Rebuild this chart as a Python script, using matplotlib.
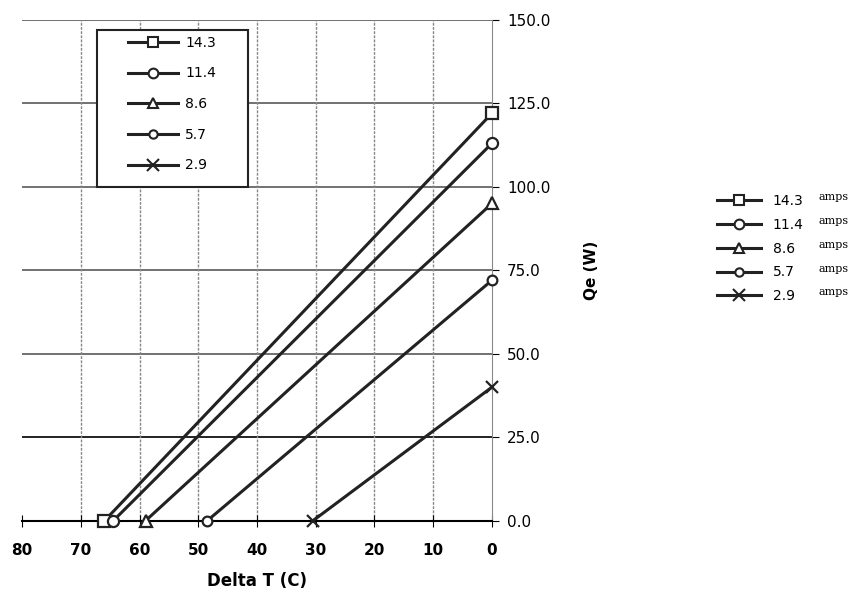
import matplotlib.pyplot as plt
import numpy as np
from matplotlib.lines import Line2D
from matplotlib.patches import Rectangle

# current (amps) and end points of each Qe vs Delta T line
currents = ['14.3', '11.4', '8.6', '5.7', '2.9']
qe_max = [122, 113, 95, 72, 40]          # Qe (W) at Delta T = 0
dt_max = [66, 64.5, 59, 48.5, 30.5]      # Delta T (C) at Qe = 0
markers = ['s', 'o', '^', 'o', 'x']
msizes = [8, 8, 8, 7, 9]

x_ticks = [80, 70, 60, 50, 40, 30, 20, 10, 0]
y_ticks = [0, 25, 50, 75, 100, 125, 150]

fig = plt.figure(figsize=(8.54, 6), dpi=100)
ax = fig.add_axes([0.026, 0.132, 0.550, 0.835])

# grid
for y in y_ticks[1:]:
    col = '#111111' if y == 25 else '#666666'
    ax.axhline(y, color=col, lw=1.3, zorder=1)
for x in x_ticks[1:-1]:
    ax.axvline(x, color='#888888', lw=1, ls=(0, (2, 1)), zorder=1)

handles = []
for c, q, d, m, ms in zip(currents, qe_max, dt_max, markers, msizes):
    ax.plot([d, 0], [0, q], color='#222222', lw=2.2, marker=m, ms=ms,
            mfc='white', mec='#222222', mew=1.6, zorder=3, clip_on=False)
    handles.append(Line2D([], [], color='#222222', lw=2.2, marker=m, ms=ms - 1,
                          mfc='white', mec='#222222', mew=1.5))

ax.set_xlim(80, 0)
ax.set_ylim(0, 150)
ax.set_xticks(x_ticks)
ax.set_xticklabels([str(x) for x in x_ticks], fontsize=11, fontweight='bold')
ax.set_yticks(y_ticks)
ax.set_yticklabels([f'{y:.1f}' for y in y_ticks], fontsize=11)
ax.yaxis.tick_right()
ax.yaxis.set_label_position('right')
ax.tick_params(axis='x', direction='inout', length=8, pad=12)
ax.tick_params(axis='y', direction='out', length=5, pad=6)

for s in ['top', 'left']:
    ax.spines[s].set_visible(False)
ax.spines['bottom'].set_linewidth(1.5)
ax.spines['right'].set_color('#888888')
ax.spines['right'].set_linestyle((0, (2, 1)))

ax.set_xlabel('Delta T (C)', fontsize=12, fontweight='bold', labelpad=10)
ax.set_ylabel('Qe (W)', fontsize=11, fontweight='bold', labelpad=24)

# inner legend with a drawn box
box = Rectangle((0.16, 0.667), 0.321, 0.313, transform=ax.transAxes,
                facecolor='white', edgecolor='#222222', lw=1.5, zorder=4)
ax.add_patch(box)
leg = ax.legend(handles, currents, loc='upper left', bbox_to_anchor=(0.2255, 0.968),
                fontsize=10, handlelength=3.6, handletextpad=0.5, labelspacing=1.2,
                frameon=False, borderpad=0, borderaxespad=0)
leg.set_zorder(5)

leg2 = fig.legend(handles, currents, loc='upper left', bbox_to_anchor=(0.825, 0.697),
                  fontsize=10, handlelength=3.2, labelspacing=0.7, frameon=False)
for i in range(len(currents)):
    fig.text(0.958, 0.671 - i * 0.0395, 'amps', fontsize=8, family='serif',
             va='center')

fig.savefig('out.png', dpi=100)
